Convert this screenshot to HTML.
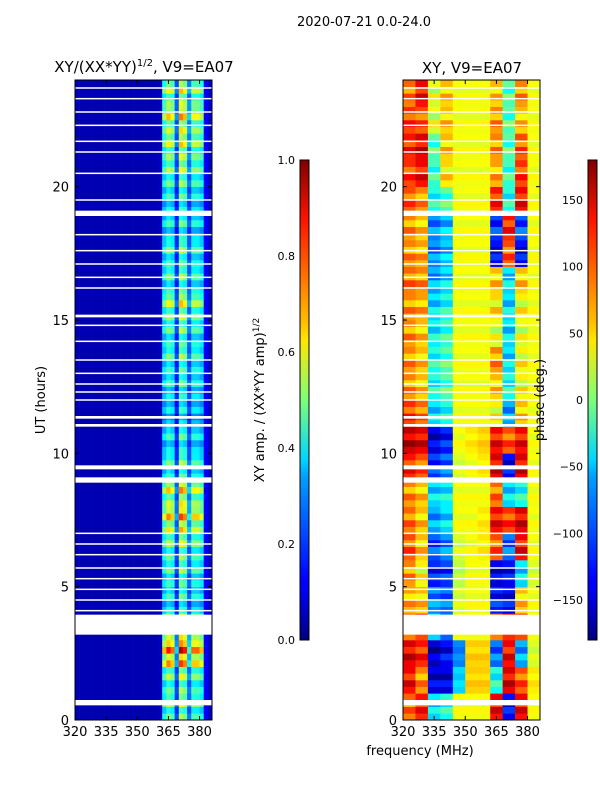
<!DOCTYPE html>
<html><head><meta charset="utf-8"><style>
body{margin:0;background:#fff;width:600px;height:800px;overflow:hidden;font-family:"Liberation Sans","DejaVu Sans",sans-serif}
svg text{font-family:"DejaVu Sans","Liberation Sans",sans-serif;fill:#000}
</style></head><body>
<svg id="fig" width="600" height="800" xmlns="http://www.w3.org/2000/svg">
<defs>
<linearGradient id="jet" x1="0" y1="1" x2="0" y2="0">
<stop offset="0" stop-color="#00007f"/><stop offset="0.11" stop-color="#0000ff"/><stop offset="0.125" stop-color="#0000ff"/>
<stop offset="0.34" stop-color="#00a0ff"/><stop offset="0.375" stop-color="#00d4ff"/><stop offset="0.5" stop-color="#7dff7a"/>
<stop offset="0.625" stop-color="#ffe600"/><stop offset="0.66" stop-color="#ffc000"/><stop offset="0.875" stop-color="#ff1300"/>
<stop offset="1" stop-color="#7f0000"/></linearGradient>
</defs>
<text x="364" y="26" font-size="13" text-anchor="middle">2020-07-21 0.0-24.0</text>
<text x="144" y="72" font-size="15" text-anchor="middle">XY/(XX*YY)<tspan font-size="10" dy="-6">1/2</tspan><tspan dy="6">, V9=EA07</tspan></text>
<text x="472" y="73" font-size="15" text-anchor="middle">XY, V9=EA07</text>
<text x="45" y="400" font-size="13" text-anchor="middle" transform="rotate(-90 45 400)">UT (hours)</text>
<text x="420" y="755" font-size="13" text-anchor="middle">frequency (MHz)</text>
<text x="264" y="400" font-size="13" text-anchor="middle" transform="rotate(-90 264 400)">XY amp. / (XX*YY amp)<tspan font-size="9" dy="-5">1/2</tspan></text>
<g id="ampPlot"></g>
<g id="phPlot"></g>
<g id="axes"></g>
<text x="544" y="400" font-size="13" text-anchor="middle" transform="rotate(-90 544 400)">phase (deg.)</text>
<rect x="300" y="160" width="9" height="480" fill="url(#jet)" stroke="#000" stroke-width="1"/>
<rect x="588" y="160" width="9" height="480" fill="url(#jet)" stroke="#000" stroke-width="1"/>
</svg>
<script>
const ampProfile=[0.05,0.05,0.05,0.05,0.05,0.05,0.05,0.05,0.05,0.05,0.05,0.05,0.05,0.05,0.05,0.05,0.05,0.05,0.05,0.05,0.06,0.4,0.5,0.45,0.2,0.55,0.5,0.25,0.45,0.45,0.4,0.12,0.07];
const ampGain=[1,1,1.5,1.2,0.8,0.9,1,1.3,1.2,0.9,0.8,0.7,0.8,0.9,0.9,1.1,0.9,0.9,0.8,0.8,1,1.1,1.2,1.1];
const subGain=[1,0.8,1.15,0.9];
const phaseHours=[
[90,120,-60,-40,40,40,40,130,-140,130,40],
[130,80,-150,-150,-60,60,60,-40,140,100,50],
[140,120,-160,-140,-90,60,60,-100,130,-80,30],
[90,110,-60,-100,40,40,40,90,120,110,40],
[70,60,-90,-100,30,40,40,-130,-140,60,40],
[80,40,-130,-120,20,40,40,-150,-140,-60,30],
[100,60,-110,-90,30,40,50,100,-100,130,40],
[90,60,-80,-60,40,40,50,130,110,140,40],
[80,60,-60,-50,40,40,40,90,-60,-40,40],
[120,100,-120,-100,30,40,50,140,-140,140,40],
[150,140,-150,-130,40,50,60,130,100,130,40],
[110,90,-60,-40,40,40,40,40,-80,60,40],
[80,60,-40,-20,40,40,40,60,-40,40,40],
[80,60,-40,-20,40,40,40,80,-60,40,40],
[80,60,-50,-30,40,40,40,30,-60,30,40],
[80,70,-60,-40,40,40,40,50,-60,40,40],
[90,80,-80,-60,40,40,40,60,-60,60,40],
[80,70,-90,-70,40,40,40,-140,100,-140,40],
[80,60,-90,-70,40,40,40,-120,120,-110,40],
[100,80,-40,-20,40,40,40,120,-40,130,40],
[110,130,-30,50,40,40,40,70,-30,110,40],
[120,140,-20,60,40,40,40,80,-20,100,40],
[110,100,30,60,40,40,40,80,-20,60,40],
[90,130,30,60,40,40,40,60,-20,80,40]];
const subOffset=[0,25,-20,10];
const blankStart=[0.55,3.2,8.9,9.4,11.0,11.3,15.1,18.9];
const blankEnd=[0.75,3.95,9.1,9.55,11.1,11.4,15.2,19.1];
const thinLines=[4.1,4.5,4.9,5.3,5.7,6.2,6.6,7.0,12.0,12.3,12.6,13.0,13.5,14.2,14.8,16.2,16.6,17.1,17.6,18.2,19.5,20.5,21.3,21.7,22.3,22.8,23.3,23.7];
const xTicks=[320,335,350,365,380];
const yTicks=[0,5,10,15,20];
const ampTicks=[0,0.2,0.4,0.6,0.8,1.0];
const phTicks=[-150,-100,-50,0,50,100,150];

const NS="http://www.w3.org/2000/svg";
const top_=80,bot=720,fmin=320,fmax=386;
function yS(h){return bot-(h/24)*(bot-top_);}
function xS(x0,f){return x0+(f-fmin)/(fmax-fmin)*137;}
function jet(v){v=Math.max(0,Math.min(1,v));
 const r=Math.max(0,Math.min(1,Math.min(4*v-1.5,-4*v+4.5)));
 const g=Math.max(0,Math.min(1,Math.min(4*v-0.5,-4*v+3.5)));
 const b=Math.max(0,Math.min(1,Math.min(4*v+0.5,-4*v+2.5)));
 return `rgb(${Math.round(r*255)},${Math.round(g*255)},${Math.round(b*255)})`;}
function mk(tag,at,parent){const e=document.createElementNS(NS,tag);for(const k in at)e.setAttribute(k,at[k]);parent.appendChild(e);return e;}
const amp=document.getElementById('ampPlot'),ph=document.getElementById('phPlot'),ax=document.getElementById('axes');
for(let h=0;h<24;h++)for(let q=0;q<4;q++){
 const t0=h+q/4,t1=t0+0.25,y=yS(t1),hh=yS(t0)-yS(t1);
 ampProfile.forEach((p,c)=>{
  const v=p>0.15?p*ampGain[h]*subGain[q]:p;
  const r=mk('rect',{x:xS(75,fmin+2*c),y:y,width:137/33+0.3,height:hh+0.3,fill:jet(v)},amp);
  
  
 });
 phaseHours[h].forEach((p,c)=>{
  const v=p+subOffset[q]*(c<4||c>6&&c<10?1:0.3);
  const r=mk('rect',{x:xS(403,fmin+6*c),y:y,width:137/11+0.3,height:hh+0.3,fill:jet((v+180)/360)},ph);
  
  
 });
}
[75,403].forEach((x0,pi)=>{
 const g=pi?ph:amp;
 blankStart.forEach((s,i)=>{const r=mk('rect',{x:x0,y:yS(blankEnd[i]),width:137,height:yS(s)-yS(blankEnd[i]),fill:'#fff'},g);
  });
 thinLines.forEach(t=>{const r=mk('rect',{x:x0,y:yS(t)-0.75,width:137,height:1.5,fill:'#fff'},g);
  });
 const fr=mk('rect',{x:x0,y:top_,width:137,height:bot-top_,fill:'none',stroke:'#000','stroke-width':1},ax);
 
 
 xTicks.forEach(f=>{const x=xS(x0,f);
  mk('line',{x1:x,x2:x,y1:bot,y2:bot-4,stroke:'#000'},ax);mk('line',{x1:x,x2:x,y1:top_,y2:top_+4,stroke:'#000'},ax);
  const t=mk('text',{x:x,y:bot+16,'font-size':13,'text-anchor':'middle'},ax);t.textContent=f;
  });
 yTicks.forEach(h=>{const y=yS(h);
  mk('line',{x1:x0,x2:x0+4,y1:y,y2:y,stroke:'#000'},ax);mk('line',{x1:x0+137,x2:x0+133,y1:y,y2:y,stroke:'#000'},ax);
  const t=mk('text',{x:x0-6,y:y+5,'font-size':13,'text-anchor':'end'},ax);t.textContent=h;
  });
});
ampTicks.forEach(v=>{const y=640-v*480;
 mk('line',{x1:300,x2:309,y1:y,y2:y,stroke:'#000'},ax);
 const t=mk('text',{x:295,y:y+4,'font-size':11,'text-anchor':'end'},ax);t.textContent=v.toFixed(1);
 });
phTicks.forEach(v=>{const y=400-v/180*240;
 mk('line',{x1:588,x2:597,y1:y,y2:y,stroke:'#000'},ax);
 const t=mk('text',{x:583,y:y+4,'font-size':11,'text-anchor':'end'},ax);t.textContent=v<0?'\u2212'+(-v):v;
 });
</script>
</body></html>
